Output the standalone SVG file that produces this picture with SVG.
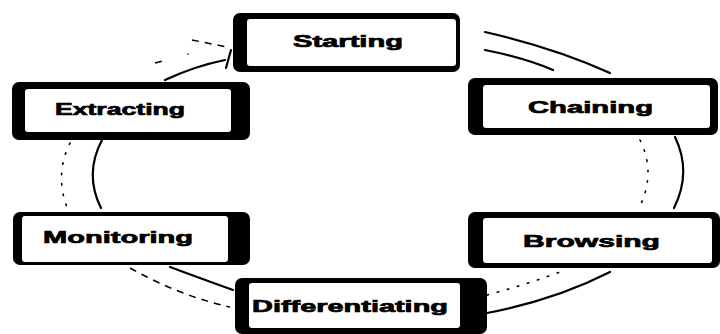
<svg xmlns="http://www.w3.org/2000/svg" width="720" height="334" viewBox="0 0 720 334">
<style>
.outer{fill:#000;}
.inner{fill:#fff;}
.lbl{font-family:"Liberation Sans",Arial,sans-serif;font-weight:bold;font-size:17px;fill:#000;stroke:#000;stroke-width:0.7;}
.solid{fill:none;stroke:#000;stroke-width:2.2;stroke-linecap:round;}
.dash{fill:none;stroke:#000;stroke-width:1.5;stroke-dasharray:7 6;}
.dot{fill:none;stroke:#000;stroke-width:1.6;stroke-dasharray:1.5 9;stroke-linecap:round;}
</style>
<rect width="720" height="334" fill="#fff"/>
<g id="connectors">
  <path class="solid" d="M165 80 Q195 66 225 60"/>
  <path class="solid" d="M226 68 L231 50" stroke-width="3"/>
  <path class="dash" d="M192 40 L227 47"/>
  <path class="dash" d="M155 63 L163 61"/>
  <circle cx="188" cy="54" r="0.8" fill="#000"/>
  <path class="solid" d="M485 32 Q555 48 610 73" stroke-width="1.8"/>
  <path class="solid" d="M485 50 Q525 58 553 70" stroke-width="1.8"/>
  <path class="solid" d="M102 140 Q84 174 101 208" stroke-width="3"/>
  <path class="dot" d="M70 143 Q54 175 68 210"/>
  <path class="solid" d="M675 137 Q692 172 674 208" stroke-width="3"/>
  <path class="dot" d="M640 140 Q656 172 640 206"/>
  <path class="solid" d="M170 267 Q205 280 233 290"/>
  <path class="dash" d="M130 268 Q180 296 230 307"/>
  <path class="solid" d="M487 313 Q555 300 610 272"/>
  <path class="dot" d="M487 295 Q525 285 560 272"/>
</g>
<g id="starting">
  <rect class="outer" x="233" y="13" width="227" height="59" rx="7"/>
  <rect class="inner" x="247" y="19" width="209" height="47" rx="3"/>
  <text class="lbl" x="293" y="47" textLength="110" lengthAdjust="spacingAndGlyphs">Starting</text>
</g>
<g id="extracting">
  <rect class="outer" x="12" y="82" width="238" height="58" rx="7"/>
  <rect class="inner" x="25" y="89" width="206" height="43" rx="3"/>
  <text class="lbl" x="55" y="115" textLength="130" lengthAdjust="spacingAndGlyphs">Extracting</text>
</g>
<g id="chaining">
  <rect class="outer" x="468" y="78" width="250" height="57" rx="7"/>
  <rect class="inner" x="483" y="85" width="227" height="43" rx="3"/>
  <text class="lbl" x="528" y="113" textLength="125" lengthAdjust="spacingAndGlyphs">Chaining</text>
</g>
<g id="monitoring">
  <rect class="outer" x="13" y="212" width="237" height="53" rx="7"/>
  <rect class="inner" x="22" y="216" width="206" height="46" rx="3"/>
  <text class="lbl" x="43" y="243" textLength="150" lengthAdjust="spacingAndGlyphs">Monitoring</text>
</g>
<g id="browsing">
  <rect class="outer" x="468" y="212" width="252" height="56" rx="7"/>
  <rect class="inner" x="483" y="218" width="229" height="45" rx="3"/>
  <text class="lbl" x="523" y="247" textLength="137" lengthAdjust="spacingAndGlyphs">Browsing</text>
</g>
<g id="differentiating">
  <rect class="outer" x="235" y="278" width="252" height="56" rx="7"/>
  <rect class="inner" x="249" y="283" width="211" height="45" rx="3"/>
  <text class="lbl" x="252" y="312" textLength="196" lengthAdjust="spacingAndGlyphs">Differentiating</text>
</g>
</svg>
